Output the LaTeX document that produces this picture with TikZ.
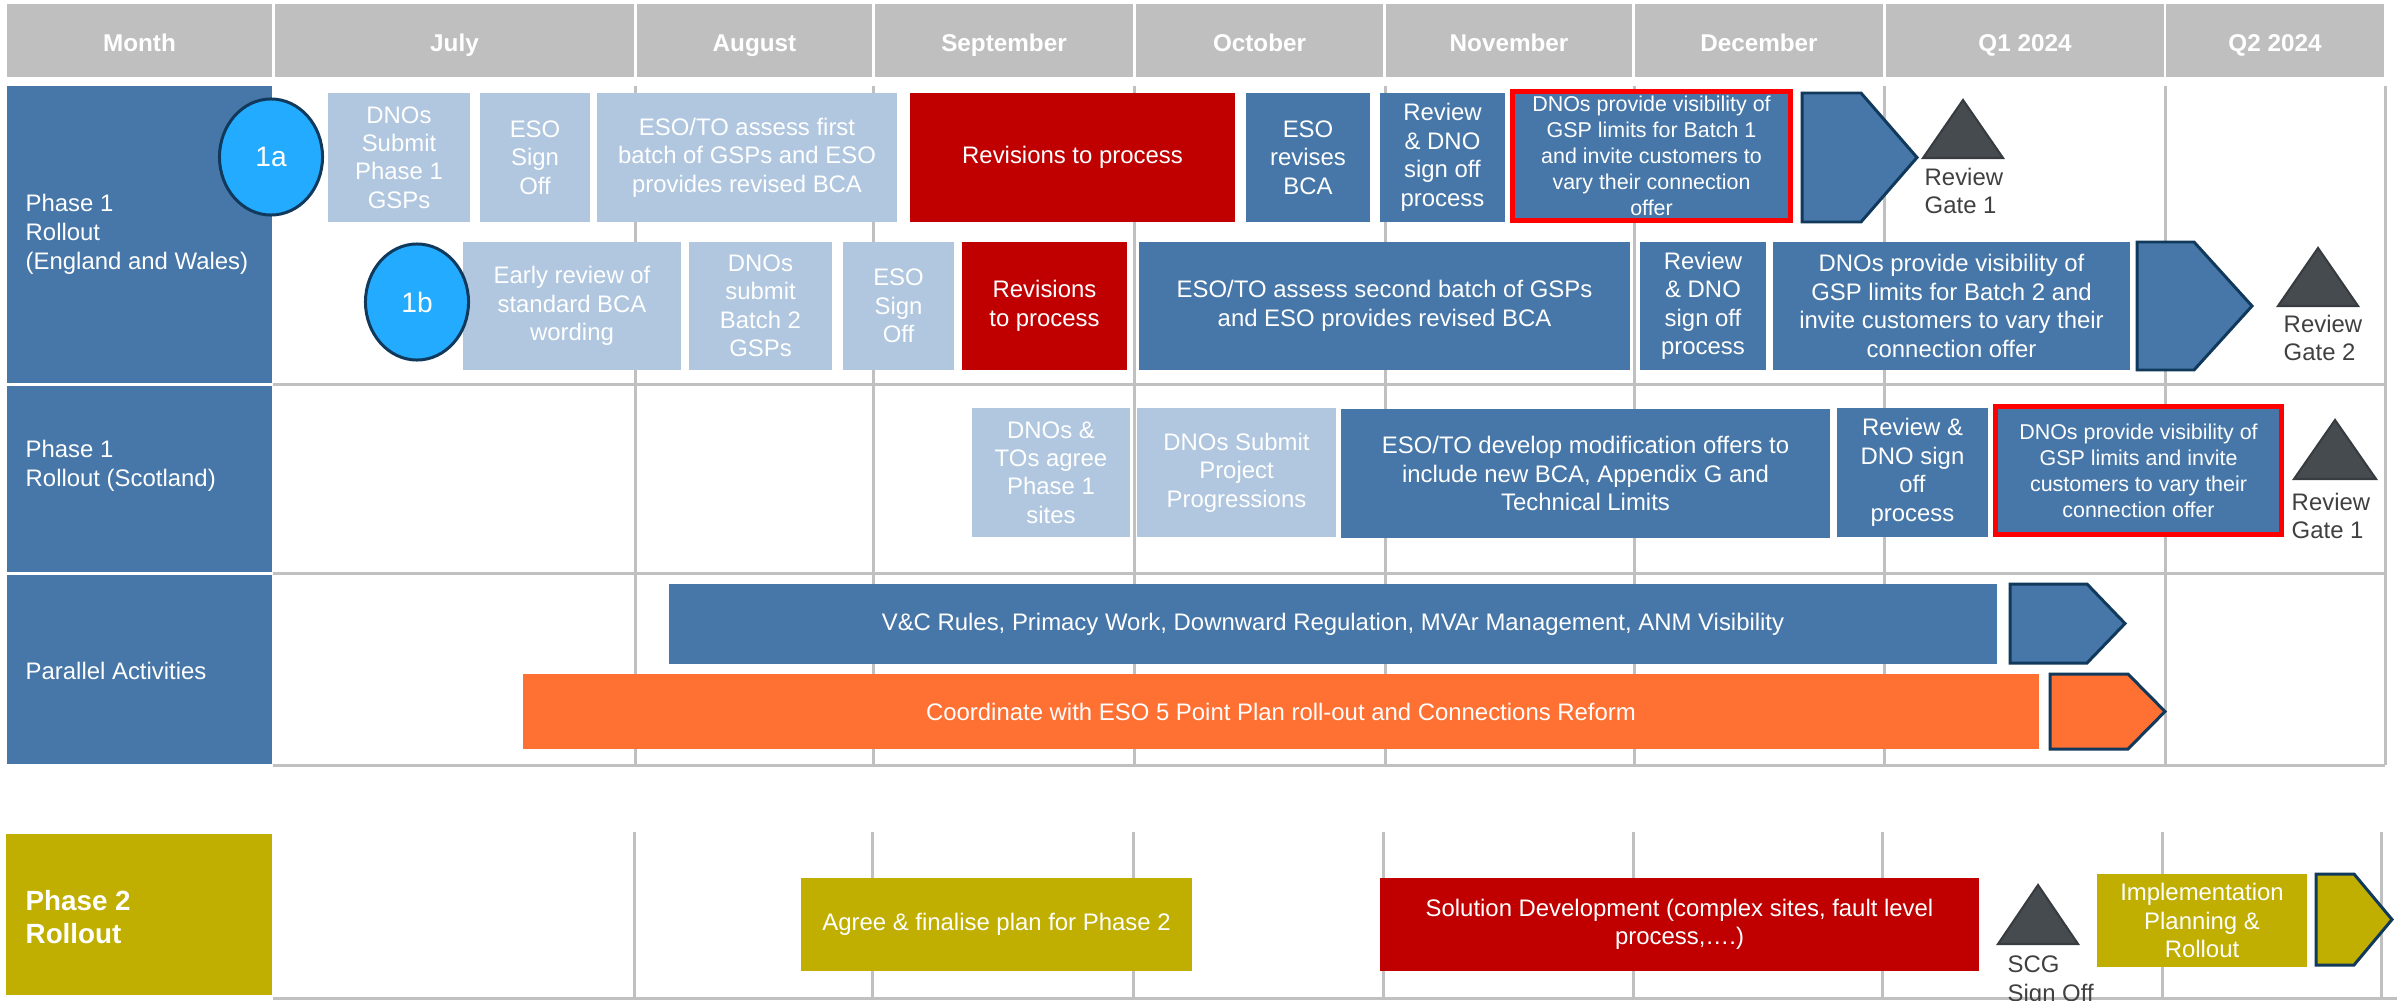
\documentclass[tikz,border=0pt]{standalone}
\usepackage{fontspec}
\setmainfont{Liberation Sans}
\usetikzlibrary{shapes.geometric}
\definecolor{headgrey}{HTML}{BFBFBF}
\definecolor{gridgrey}{HTML}{C0C0C0}
\definecolor{rowblue}{HTML}{4677A8}
\definecolor{paleblue}{HTML}{B0C7DF}
\definecolor{deepred}{HTML}{C00000}
\definecolor{flagred}{HTML}{FF0000}
\definecolor{burntorange}{HTML}{FF7033}
\definecolor{phaseolive}{HTML}{C0AF00}
\definecolor{ballblue}{HTML}{22ABFF}
\definecolor{edgenavy}{HTML}{10395C}
\definecolor{gatefill}{HTML}{464B50}
\definecolor{gatetext}{HTML}{404040}

% box from corner (x1,y1) to corner (x2,y2), in pixels of the chart
\newcommand{\ganttbox}[7]{%
  \node[#1, minimum width={(#5-#3)*0.01cm}, minimum height={(#6-#4)*0.01cm}]
    (#2) at ({(#3+#5)/2},{(#4+#6)/2}) {#7};}
% pentagon arrow: fill, x left, x shoulder, x tip, y top, y bottom
\newcommand{\arrowtab}[6]{%
  \draw[chev, fill=#1] (#2,#5) -- (#3,#5) -- (#4,{(#5+#6)/2}) -- (#3,#6) -- (#2,#6) -- cycle;}
% milestone triangle: apex x, apex y, half base, base y
\newcommand{\reviewgate}[4]{%
  \draw[gatetri] (#1,#2) -- ({#1+#3},#4) -- ({#1-#3},#4) -- cycle;}

\tikzset{
  headcell/.style={fill=headgrey, text=white, inner sep=0pt,
    text height=6.5pt, text depth=0pt,
    font=\fontsize{6.9}{8.3}\selectfont\bfseries},
  rowbox/.style={fill=rowblue, inner sep=0pt},
  rowlabel/.style={text=white, anchor=west, align=left, inner sep=0pt,
    font=\fontsize{6.8}{8.2}\selectfont},
  taskbox/.style={text=white, align=center, inner sep=0pt,
    font=\fontsize{6.8}{8.1}\selectfont},
  palebox/.style={taskbox, fill=paleblue},
  bluebox/.style={taskbox, fill=rowblue},
  redbox/.style={taskbox, fill=deepred},
  orangebox/.style={taskbox, fill=burntorange},
  olivebox/.style={taskbox, fill=phaseolive},
  flagbox/.style={taskbox, fill=rowblue, draw=flagred, line width=1.4pt,
    font=\fontsize{6.1}{7.4}\selectfont},
  ball/.style={ellipse, fill=ballblue, draw=edgenavy, line width=0.85pt,
    text=white, inner sep=0pt, font=\fontsize{8}{9}\selectfont},
  chev/.style={draw=edgenavy, line width=0.85pt, line join=miter},
  gatetri/.style={fill=gatefill, draw=gatefill!80!black, line width=0.6pt},
  gatelabel/.style={text=gatetext, anchor=west, align=left, inner sep=0pt,
    font=\fontsize{6.8}{8.1}\selectfont},
  gridline/.style={draw=gridgrey, line width=0.85pt}
}

\begin{document}
\begin{tikzpicture}[x=0.01cm, y=-0.01cm]
  \useasboundingbox (0,0) rectangle (2397,1000);

  % month header
  \ganttbox{headcell}{hmonth}{7}{4}{272}{77}{Month}
  \ganttbox{headcell}{hjul}{275}{4}{634}{77}{July}
  \ganttbox{headcell}{haug}{637}{4}{872}{77}{August}
  \ganttbox{headcell}{hsep}{875}{4}{1133}{77}{September}
  \ganttbox{headcell}{hoct}{1136}{4}{1383}{77}{October}
  \ganttbox{headcell}{hnov}{1386}{4}{1632}{77}{November}
  \ganttbox{headcell}{hdec}{1635}{4}{1883}{77}{December}
  \ganttbox{headcell}{hqone}{1886}{4}{2164}{77}{Q1 2024}
  \ganttbox{headcell}{hqtwo}{2166}{4}{2384}{77}{Q2 2024}

  % table grid
  \draw[gridline] (635,86) -- (635,765) (873,86) -- (873,765) (1134,86) -- (1134,765)
    (1385,86) -- (1385,765) (1634,86) -- (1634,765) (1884,86) -- (1884,765)
    (2165,86) -- (2165,765) (2385,86) -- (2385,765);
  \draw[gridline] (273,384) -- (2385,384) (273,573) -- (2385,573) (273,765) -- (2385,765);
  \draw[gridline] (634,832) -- (634,999) (872,832) -- (872,999) (1133,832) -- (1133,999)
    (1383,832) -- (1383,999) (1633,832) -- (1633,999) (1882,832) -- (1882,999)
    (2162,832) -- (2162,999) (2381,832) -- (2381,999);
  \draw[gridline] (273,998.5) -- (2397,998.5);

  % row labels
  \ganttbox{rowbox}{lbew}{7}{86}{272}{383}{}
  \ganttbox{rowbox}{lbsc}{7}{386}{272}{572}{}
  \ganttbox{rowbox}{lbpar}{7}{575}{272}{764}{}
  \ganttbox{rowbox, fill=phaseolive}{lbptwo}{6}{834}{272}{995}{}
  \node[rowlabel] (txew) at (25,234) {Phase 1\\Rollout\\(England and Wales)};
  \node[rowlabel] (txsc) at (25,466) {Phase 1\\Rollout (Scotland)};
  \node[rowlabel] (txpar) at (25,671) {Parallel Activities};
  \node[rowlabel, font=\fontsize{7.9}{9.2}\selectfont\bfseries] (txptwo) at (25,917) {Phase 2\\Rollout};

  % England and Wales, batch 1
  \ganttbox{palebox}{ewsub}{328}{93}{470}{222}{DNOs\\Submit\\Phase 1\\GSPs}
  \ganttbox{palebox}{ewsign}{480}{93}{590}{222}{ESO\\Sign\\Off}
  \ganttbox{palebox}{ewassess}{597}{93}{897}{222}{ESO/TO assess first\\batch of GSPs and ESO\\provides revised BCA}
  \ganttbox{redbox}{ewrev}{910}{93}{1235}{222}{Revisions to process}
  \ganttbox{bluebox}{ewbca}{1246}{93}{1370}{222}{ESO\\revises\\BCA}
  \ganttbox{bluebox}{ewreview}{1380}{93}{1505}{222}{Review\\\& DNO\\sign off\\process}
  \ganttbox{flagbox}{ewvis}{1512.5}{91.5}{1790.5}{220.5}{DNOs provide visibility of\\GSP limits for Batch 1\\and invite customers to\\vary their connection\\offer}
  \arrowtab{rowblue}{1802}{1861}{1917}{93}{222}
  \reviewgate{1963}{100}{40}{158}
  \node[gatelabel] (gate1a) at (1924,191) {Review\\Gate 1};
  \node[ball, minimum width=1.03cm, minimum height=1.16cm] (c1a) at (271,157) {1a};

  % England and Wales, batch 2
  \ganttbox{palebox}{ewearly}{463}{242}{681}{370}{Early review of\\standard BCA\\wording}
  \ganttbox{palebox}{ewsubtwo}{689}{242}{832}{370}{DNOs\\submit\\Batch 2\\GSPs}
  \ganttbox{palebox}{ewsigntwo}{843}{242}{954}{370}{ESO\\Sign\\Off}
  \ganttbox{redbox}{ewrevtwo}{962}{242}{1127}{370}{Revisions\\to process}
  \ganttbox{bluebox}{ewassesstwo}{1139}{242}{1630}{370}{ESO/TO assess second batch of GSPs\\and ESO provides revised BCA}
  \ganttbox{bluebox}{ewreviewtwo}{1640}{242}{1766}{370}{Review\\\& DNO\\sign off\\process}
  \ganttbox{bluebox}{ewvistwo}{1773}{242}{2130}{370}{DNOs provide visibility of\\GSP limits for Batch 2 and\\invite customers to vary their\\connection offer}
  \arrowtab{rowblue}{2137}{2194}{2252}{242}{370}
  \reviewgate{2318}{248}{40}{306}
  \node[gatelabel] (gate2) at (2283,338) {Review\\Gate 2};
  \node[ball, minimum width=1.03cm, minimum height=1.16cm] (c1b) at (417,302) {1b};

  % Scotland
  \ganttbox{palebox}{scagree}{972}{408}{1130}{537}{DNOs \&\\TOs agree\\Phase 1\\sites}
  \ganttbox{palebox}{scsub}{1137}{408}{1336}{537}{DNOs Submit\\Project\\Progressions}
  \ganttbox{bluebox}{scmod}{1341}{409}{1830}{538}{ESO/TO develop modification offers to\\include new BCA, Appendix G and\\Technical Limits}
  \ganttbox{bluebox}{screview}{1837}{408}{1988}{537}{Review \&\\DNO sign\\off\\process}
  \ganttbox{flagbox}{scvis}{1995.5}{406.5}{2281.5}{534.5}{DNOs provide visibility of\\GSP limits and invite\\customers to vary their\\connection offer}
  \reviewgate{2335}{420}{41}{479}
  \node[gatelabel] (gate1b) at (2291,516) {Review\\Gate 1};

  % parallel activities
  \ganttbox{bluebox}{parvc}{669}{584}{1997}{664}{V\&C Rules, Primacy Work, Downward Regulation, MVAr Management, ANM Visibility}
  \arrowtab{rowblue}{2010}{2087}{2125}{584}{663}
  \ganttbox{orangebox}{parplan}{523}{674}{2039}{749}{Coordinate with ESO 5 Point Plan roll-out and Connections Reform}
  \arrowtab{burntorange}{2050}{2128}{2165}{674}{749}

  % phase 2
  \ganttbox{olivebox}{ptagree}{801}{878}{1192}{971}{Agree \& finalise plan for Phase 2}
  \ganttbox{redbox}{ptsol}{1380}{878}{1979}{971}{Solution Development (complex sites, fault level\\process,….)}
  \reviewgate{2038}{885}{40}{944}
  \node[gatelabel] (gatescg) at (2007,981) {SCG\\Sign Off};
  \ganttbox{olivebox}{ptimpl}{2097}{874}{2307}{967}{Implementation\\Planning \&\\Rollout}
  \arrowtab{phaseolive}{2316}{2354}{2392}{874}{965}
\end{tikzpicture}
\end{document}
